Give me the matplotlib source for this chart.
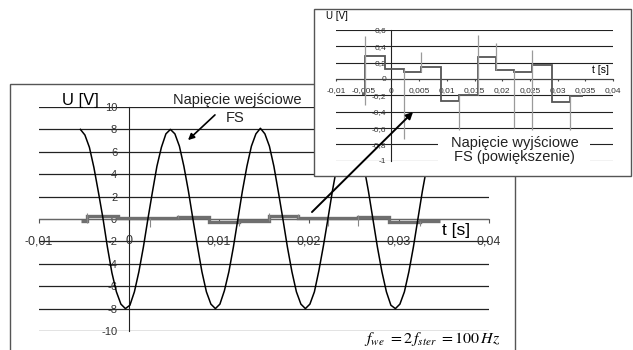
import numpy as np
import matplotlib

matplotlib.use("Agg")
import matplotlib.pyplot as plt
from matplotlib.patches import Rectangle, FancyArrowPatch

plt.rcParams["font.family"] = ["Liberation Sans", "DejaVu Sans"]
plt.rcParams["mathtext.fontset"] = "stix"

W, H = 633, 350

# input voltage samples (every 0.5 ms)
sine_t0, sine_t1 = -0.0054, 0.0346
sine_v = [
    8.0, 7.5, 6.4, 4.6, 2.4, 0.1, -2.5, -4.8, -6.5, -7.6, -8.0, -7.7, -6.5, -4.7, -2.5, 0.0, 2.4, 4.7, 6.4, 7.6,
    8.0, 7.6, 6.5, 4.7, 2.5, 0.0, -2.4, -4.7, -6.5, -7.6, -8.0, -7.6, -6.4, -4.7, -2.5, 0.0, 2.5, 4.7, 6.5, 7.6,
    8.1, 7.6, 6.5, 4.7, 2.4, 0.0, -2.5, -4.7, -6.5, -7.6, -8.0, -7.6, -6.5, -4.6, -2.4, 0.0, 2.5, 4.7, 6.5, 7.6,
    8.0, 7.6, 6.5, 4.7, 2.5, 0.0, -2.5, -4.7, -6.5, -7.7, -8.0, -7.6, -6.5, -4.7, -2.5, 0.0, 2.5, 4.7, 6.5, 7.6,
    8.0,
]

# output voltage: step levels between edges, plus short spikes at switching
step_t = [-0.0053, -0.0047, -0.0012, 0.0023, 0.0054, 0.0089, 0.0122,
          0.0156, 0.0188, 0.0221, 0.0254, 0.0289, 0.0323, 0.0346]
step_v = [-0.18, 0.28, 0.12, 0.085, 0.15, -0.27, -0.20,
          0.27, 0.11, 0.09, 0.17, -0.28, -0.21]
spike_t = [-0.0047, 0.0023, 0.0054, 0.0122, 0.0156, 0.0188, 0.0221, 0.0254, 0.0323]
spike_lo = [-0.32, -0.73, 0.085, -0.62, -0.20, 0.11, -0.60, -0.62, -0.62]
spike_hi = [0.53, 0.12, 0.33, -0.20, 0.54, 0.44, 0.11, 0.35, -0.21]

main_xticks = [-0.01, 0.0, 0.01, 0.02, 0.03, 0.04]
main_xlabels = ["-0,01", "0", "0,01", "0,02", "0,03", "0,04"]
main_yticks = [10, 8, 6, 4, 2, 0, -2, -4, -6, -8, -10]
main_ylabels = ["10", "8", "6", "4", "2", "0", "-2", "-4", "-6", "-8", "-10"]

ins_xticks = [-0.01, -0.005, 0.0, 0.005, 0.01, 0.015, 0.02, 0.025, 0.03, 0.035, 0.04]
ins_xlabels = ["-0,01", "-0,005", "0", "0,005", "0,01", "0,015", "0,02", "0,025", "0,03", "0,035", "0,04"]
ins_yticks = [0.6, 0.4, 0.2, 0.0, -0.2, -0.4, -0.6, -0.8, -1.0]
ins_ylabels = ["0,6", "0,4", "0,2", "0", "-0,2", "-0,4", "-0,6", "-0,8", "-1"]


def fx(px):
    return px / W


def fy(py):
    return 1 - py / H


def box(l, t, r, b):
    return [fx(l), fy(b), (r - l) / W, (b - t) / H]


fig = plt.figure(figsize=(W / 100, H / 100), dpi=100)

# outer frame of the main chart
fig.add_artist(Rectangle((fx(10), fy(362)), (515 - 10) / W, (362 - 84) / H,
                         transform=fig.transFigure, fill=False,
                         edgecolor="#555555", lw=1.0, zorder=-1))

# ---- main chart
ax = fig.add_axes(box(39, 107, 489, 331))
ax.set_facecolor("none")
ax.set_xlim(-0.01, 0.04)
ax.set_ylim(-10, 10)
for s in ["top", "right"]:
    ax.spines[s].set_visible(False)
ax.spines["left"].set_position(("data", 0))
ax.spines["bottom"].set_position(("data", 0))
ax.spines["left"].set_color("#222222")
ax.spines["bottom"].set_color("#666666")
ax.set_yticks(main_yticks, labels=main_ylabels)
ax.set_xticks(main_xticks)
ax.tick_params(axis="y", length=0, pad=8.5, labelsize=8, labelcolor="#333333")
ax.tick_params(axis="x", direction="out", length=3, color="#555555", labelbottom=False)
ax.grid(axis="y", color="#222222", lw=0.9)
ax.set_axisbelow(True)
for t, lab in zip(main_xticks, main_xlabels):
    ax.text(t, -2, lab, ha="center", va="center", fontsize=9, color="#333333")

sine_t = np.linspace(sine_t0, sine_t1, len(sine_v))
ax.stairs(step_v, step_t, baseline=None, color="#6f6f6f", lw=2.4, zorder=3)
ax.vlines(spike_t, spike_lo, spike_hi, color="#888888", lw=0.8, zorder=3)
ax.plot(sine_t, sine_v, color="black", lw=1.1, zorder=4)

fig.text(fx(80), fy(100), "U [V]", fontsize=12, ha="center", va="center")
fig.text(fx(456), fy(230), "t [s]", fontsize=12.5, ha="center", va="center")
fig.text(fx(237), fy(100), "Napięcie wejściowe", fontsize=10.5, ha="center", va="center", color="#222222")
fig.text(fx(235), fy(118), "FS", fontsize=10.5, ha="center", va="center", color="#222222")
fig.text(fx(500), fy(343), r"$f_{we}\ = 2\,f_{ster}\ = 100\,Hz$",
         fontsize=11.5, ha="right", va="baseline")

fig.add_artist(FancyArrowPatch((fx(217), fy(113)), (fx(186), fy(142)),
                               transform=fig.transFigure, arrowstyle="-|>",
                               mutation_scale=9, lw=1.2, color="black", zorder=5))

# ---- inset (zoomed output voltage)
fig.add_artist(Rectangle((fx(314), fy(176)), (631 - 314) / W, (176 - 9) / H,
                         transform=fig.transFigure, facecolor="white",
                         edgecolor="#555555", lw=1.0, zorder=1))

ins = fig.add_axes(box(336, 29.9, 613, 160.8))
ins.set_zorder(2)
ins.set_facecolor("none")
ins.set_xlim(-0.01, 0.04)
ins.set_ylim(-1.0, 0.6)
for s in ["top", "right"]:
    ins.spines[s].set_visible(False)
ins.spines["left"].set_position(("data", 0))
ins.spines["bottom"].set_position(("data", 0))
ins.spines["left"].set_color("#222222")
ins.spines["bottom"].set_color("#444444")
ins.spines["left"].set_linewidth(0.8)
ins.spines["bottom"].set_linewidth(0.8)
ins.set_yticks(ins_yticks, labels=ins_ylabels)
ins.set_xticks(ins_xticks)
ins.tick_params(axis="y", length=0, pad=3.5, labelsize=6, labelcolor="#333333")
ins.tick_params(axis="x", direction="out", length=1.5, color="#444444", labelbottom=False)
ins.grid(axis="y", color="#222222", lw=0.8)
ins.set_axisbelow(True)
for t, lab in zip(ins_xticks, ins_xlabels):
    ins.text(t, -0.147, lab, ha="center", va="center", fontsize=6, color="#333333")

ins.stairs(step_v, step_t, baseline=None, color="#555555", lw=1.3, zorder=3)
ins.vlines(spike_t, spike_lo, spike_hi, color="#9a9a9a", lw=0.9, zorder=3)

# legend-like white box
ins.add_patch(Rectangle((0.0084, -1.06), 0.0274, 0.40, facecolor="white",
                        edgecolor="none", zorder=4, clip_on=False))
ins.text(0.0222, -0.78, "Napięcie wyjściowe", fontsize=10.5, ha="center", va="center",
         color="#222222", zorder=5)
ins.text(0.0222, -0.955, "FS (powiększenie)", fontsize=10.5, ha="center", va="center",
         color="#222222", zorder=5)

fig.text(fx(337), fy(16), "U [V]", fontsize=7, ha="center", va="center", zorder=3)
fig.text(fx(601), fy(70), "t [s]", fontsize=7.5, ha="center", va="center", zorder=3)

# big arrow from main chart into inset
fig.add_artist(FancyArrowPatch((fx(310), fy(214)), (fx(415), fy(110)),
                               transform=fig.transFigure, arrowstyle="-|>",
                               mutation_scale=10, lw=1.4, color="black", zorder=6))

fig.savefig("out.png", dpi=100)
